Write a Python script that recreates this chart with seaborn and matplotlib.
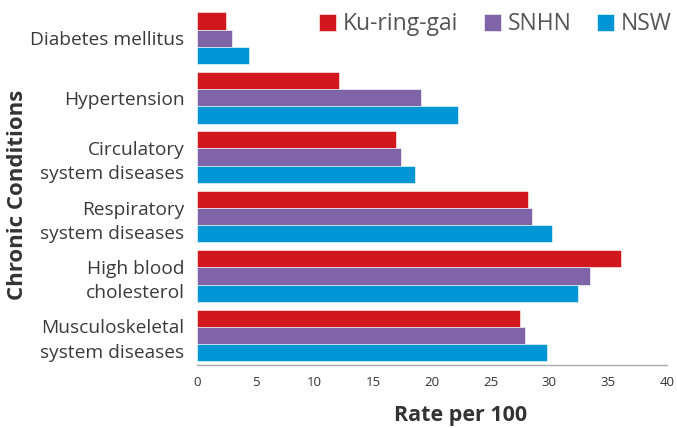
import pandas as pd
import numpy as np
import matplotlib.pyplot as plt
import seaborn as sns

conditions = ['Diabetes mellitus', 'Hypertension', 'Circulatory\nsystem diseases',
              'Respiratory\nsystem diseases', 'High blood\ncholesterol',
              'Musculoskeletal\nsystem diseases']
regions = ['Ku-ring-gai', 'SNHN', 'NSW']
kuringgai = [2.5, 12.1, 16.9, 28.2, 36.1, 27.5]
snhn = [3.0, 19.1, 17.4, 28.5, 33.5, 27.9]
nsw = [4.4, 22.2, 18.6, 30.2, 32.4, 29.8]
colors = ['#D2181F', '#8064A8', '#0096D6']

df = pd.DataFrame({
    'condition': conditions * 3,
    'region': np.repeat(regions, len(conditions)),
    'rate': kuringgai + snhn + nsw,
})

sns.set_style('white')
plt.rcParams['font.family'] = ['Open Sans', 'DejaVu Sans']

fig, ax = plt.subplots(figsize=(6.77, 4.28), dpi=100)
sns.barplot(data=df, y='condition', x='rate', hue='region', palette=colors,
            width=0.87, orient='h', ax=ax, edgecolor='white', linewidth=0.4,
            saturation=1)

ax.set_xlim(0, 40)
ax.set_xticks(range(0, 41, 5))
ax.tick_params(axis='x', direction='in', length=3, color='#aaaaaa',
               labelsize=9.5, labelcolor='#333333', pad=8)
ax.tick_params(axis='y', length=0, labelsize=13.8, labelcolor='#3a3a3a', pad=9)
for lbl in ax.get_yticklabels():
    lbl.set_linespacing(1.45)

for s in ['top', 'right', 'left']:
    ax.spines[s].set_visible(False)
ax.spines['bottom'].set_color('#aaaaaa')
ax.spines['bottom'].set_linewidth(1)

ax.set_xlabel('Rate per 100', fontsize=15.5, fontweight='bold', color='#333333')
ax.xaxis.set_label_coords(0.56, -0.112)
ax.set_ylabel('Chronic Conditions', fontsize=16, fontweight='bold', color='#333333')
ax.yaxis.set_label_coords(-0.36, 0.478)

leg = ax.legend(loc='upper right', ncol=3, frameon=False, fontsize=16.5,
                handlelength=0.75, handleheight=0.75, handletextpad=0.3,
                columnspacing=1.1, bbox_to_anchor=(1.03, 1.015), borderaxespad=0)
for t in leg.get_texts():
    t.set_color('#555555')

fig.subplots_adjust(left=0.291, right=0.985, top=0.98, bottom=0.147)
fig.savefig('out.png', dpi=100)
